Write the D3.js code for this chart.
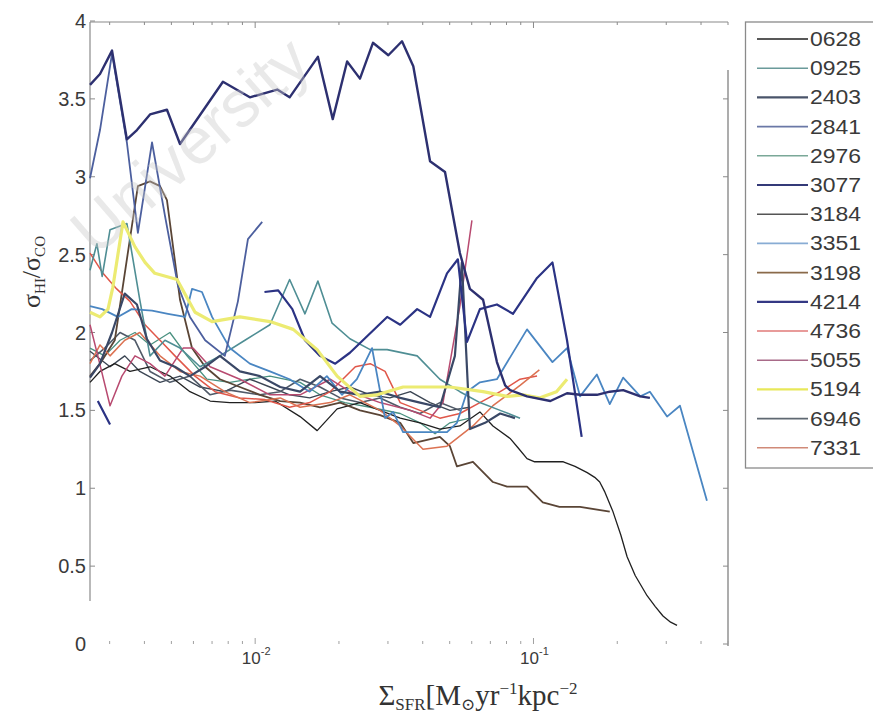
<!DOCTYPE html>
<html><head><meta charset="utf-8">
<script src="https://cdn.jsdelivr.net/npm/d3@7"></script>
<style>body{margin:0;background:#fff}svg{display:block}</style>
</head><body>
<svg id="c" width="873" height="718"></svg>
<script>
// ---------- data ----------
const galaxies = ["0628","0925","2403","2841","2976","3077","3184","3351","3198","4214","4736","5055","5194","6946","7331"];
const yTicks = [0,0.5,1,1.5,2,2.5,3,3.5,4];
const yTickLabels = ["0","0.5","1","1.5","2","2.5","3","3.5","4"];
const xMajorTicks = [0.01, 0.1];
const xMajorExp = ["-2","-1"];

const s0628 = [[0.00255,1.68],[0.00277,1.75],[0.00313,1.80],[0.00355,1.75],[0.00419,1.78],[0.00494,1.72],[0.00583,1.62],[0.00689,1.56],[0.00811,1.55],[0.00998,1.55],[0.0118,1.56],[0.0145,1.46],[0.0167,1.37],[0.0197,1.51],[0.0238,1.55],[0.0281,1.50],[0.0332,1.45],[0.0391,1.42],[0.0461,1.38],[0.0544,1.40],[0.0642,1.49],[0.0715,1.40],[0.0824,1.32],[0.088,1.26],[0.0948,1.19],[0.101,1.17],[0.110,1.17],[0.128,1.17],[0.141,1.14],[0.156,1.10],[0.166,1.07],[0.173,1.04],[0.180,0.98],[0.193,0.85],[0.206,0.70],[0.217,0.56],[0.232,0.44],[0.256,0.31],[0.274,0.24],[0.292,0.18],[0.311,0.14],[0.328,0.12]];
const s0925 = [[0.00255,2.40],[0.00270,2.57],[0.00282,2.36],[0.00301,2.66],[0.00346,2.70],[0.00385,2.21],[0.00419,1.85],[0.00474,1.95],[0.00537,1.90],[0.00634,1.78],[0.00747,1.85],[0.00919,1.95],[0.0113,2.05],[0.0133,2.34],[0.0151,2.12],[0.0168,2.33],[0.0189,2.06],[0.0219,1.96],[0.0259,1.89],[0.0298,1.89],[0.0382,1.85],[0.0461,1.70],[0.0544,1.62],[0.0642,1.55],[0.0759,1.50],[0.0895,1.45]];
const s2403 = [[0.00255,1.71],[0.00277,1.80],[0.00306,2.00],[0.00340,2.25],[0.00376,2.18],[0.00408,1.96],[0.00455,1.82],[0.00515,1.78],[0.00583,1.72],[0.00661,1.78],[0.00747,1.85],[0.00881,1.75],[0.0104,1.72],[0.0123,1.65],[0.0145,1.62],[0.0171,1.72],[0.0202,1.62],[0.0238,1.60],[0.0281,1.62],[0.0332,1.58],[0.0391,1.55],[0.0461,1.52],[0.0522,1.85],[0.0553,2.45],[0.0591,1.38],[0.0670,1.42],[0.0759,1.48],[0.0858,1.45]];
const s2841 = [[0.00255,2.99],[0.00277,3.30],[0.00306,3.79],[0.00346,3.22],[0.00379,2.64],[0.00426,3.22],[0.00474,2.75],[0.00528,2.30],[0.00583,2.10],[0.00661,1.95],[0.00778,1.85],[0.00867,2.20],[0.00942,2.60],[0.0106,2.71]];
const s2976 = [[0.00255,1.90],[0.00288,1.85],[0.00327,1.95],[0.00370,2.00],[0.00419,1.92],[0.00494,2.00],[0.00569,1.85],[0.00671,1.70],[0.00811,1.68],[0.00957,1.70],[0.0113,1.72],[0.0145,1.68],[0.0171,1.60],[0.0210,1.55],[0.0259,1.52],[0.0332,1.48],[0.0391,1.42],[0.0443,1.35],[0.0501,1.42],[0.0591,1.45]];
const s3077 = [[0.00255,3.59],[0.00277,3.66],[0.00306,3.81],[0.00346,3.24],[0.00376,3.30],[0.00419,3.40],[0.00482,3.43],[0.00537,3.21],[0.00766,3.61],[0.00957,3.51],[0.0120,3.56],[0.0133,3.51],[0.0168,3.77],[0.0190,3.37],[0.0214,3.74],[0.0238,3.63],[0.0265,3.86],[0.0301,3.78],[0.0337,3.87],[0.0370,3.71],[0.0425,3.10],[0.0481,3.03],[0.0544,2.51],[0.0591,2.28],[0.0659,2.21],[0.0739,1.81],[0.0791,1.66],[0.0824,1.63],[0.0948,1.59],[0.115,1.56],[0.132,1.61],[0.147,1.60],[0.169,1.60],[0.188,1.62],[0.210,1.63],[0.242,1.59],[0.262,1.58]];
const s3184 = [[0.00255,1.88],[0.00301,1.78],[0.00340,1.85],[0.00385,1.75],[0.00455,1.68],[0.00537,1.72],[0.00634,1.65],[0.00778,1.62],[0.00957,1.70],[0.0113,1.65],[0.0133,1.60],[0.0157,1.58],[0.0186,1.62],[0.0219,1.65],[0.0259,1.60],[0.0305,1.58],[0.0361,1.62],[0.0425,1.55],[0.0501,1.50],[0.0591,1.52]];
const s3351 = [[0.00255,2.17],[0.00282,2.15],[0.00321,2.10],[0.00360,2.15],[0.00426,2.14],[0.00486,2.12],[0.00560,2.10],[0.00593,2.28],[0.00644,2.26],[0.00700,2.10],[0.00811,1.90],[0.00957,1.80],[0.0113,1.75],[0.0133,1.70],[0.0157,1.62],[0.0181,1.72],[0.0205,1.60],[0.0232,1.70],[0.0263,1.90],[0.0293,1.45],[0.0313,1.49],[0.0340,1.36],[0.0489,1.36],[0.0531,1.42],[0.0577,1.62],[0.0642,1.68],[0.0739,1.70],[0.0948,2.02],[0.117,1.81],[0.132,1.90],[0.147,1.59],[0.169,1.73],[0.188,1.54],[0.210,1.71],[0.242,1.59],[0.262,1.62],[0.302,1.46],[0.336,1.53],[0.420,0.92]];
const s3198 = [[0.00255,1.72],[0.00277,1.80],[0.00313,1.95],[0.00348,2.50],[0.00379,2.94],[0.00419,2.97],[0.00455,2.94],[0.00482,2.85],[0.00537,2.21],[0.00593,1.90],[0.00661,1.78],[0.00747,1.70],[0.00881,1.65],[0.0104,1.60],[0.0123,1.56],[0.0145,1.55],[0.0171,1.52],[0.0202,1.55],[0.0238,1.50],[0.0281,1.47],[0.0332,1.42],[0.0370,1.29],[0.0461,1.33],[0.0501,1.27],[0.0531,1.14],[0.0606,1.17],[0.0715,1.04],[0.0804,1.01],[0.0948,1.01],[0.108,0.91],[0.124,0.88],[0.147,0.88],[0.188,0.85]];
const s4214 = [[0.00272,1.56],[0.00301,1.41],[0.0050,null],[0.0108,2.26],[0.0121,2.27],[0.0136,2.15],[0.0151,1.95],[0.0171,1.85],[0.0194,1.80],[0.0219,1.87],[0.0298,2.10],[0.0332,2.05],[0.0382,2.15],[0.0425,2.10],[0.0489,2.38],[0.0535,2.47],[0.0577,1.94],[0.0642,2.15],[0.0739,2.18],[0.0844,2.12],[0.103,2.35],[0.117,2.45],[0.132,1.95],[0.149,1.33]];
const s4736 = [[0.00255,2.51],[0.00284,2.38],[0.00318,2.28],[0.00355,2.20],[0.00402,2.05],[0.00455,1.95],[0.00515,1.85],[0.00608,1.72],[0.00718,1.62],[0.00881,1.58],[0.0108,1.57],[0.0133,1.52],[0.0157,1.55],[0.0186,1.62],[0.0229,1.78],[0.0259,1.80],[0.0293,1.75],[0.0332,1.55],[0.0391,1.50],[0.0461,1.45],[0.0544,1.48],[0.0642,1.55],[0.0759,1.62],[0.0895,1.70],[0.103,1.72]];
const s5055 = [[0.00255,2.05],[0.00272,1.85],[0.00301,1.53],[0.00332,1.72],[0.00370,1.85],[0.00419,1.80],[0.00474,1.72],[0.00551,1.90],[0.00598,1.90],[0.00689,1.78],[0.00881,1.70],[0.0113,1.60],[0.0145,1.60],[0.0186,1.70],[0.0219,1.62],[0.0281,1.55],[0.0361,1.50],[0.0425,1.45],[0.0473,1.55],[0.0544,2.17],[0.0601,2.72]];
const s5194 = [[0.00255,2.13],[0.00277,2.10],[0.00296,2.15],[0.00308,2.29],[0.00335,2.71],[0.00370,2.55],[0.00402,2.45],[0.00436,2.38],[0.00524,2.34],[0.00608,2.13],[0.00700,2.07],[0.00881,2.10],[0.0113,2.07],[0.0137,2.02],[0.0167,1.89],[0.0197,1.72],[0.0238,1.59],[0.0274,1.60],[0.0340,1.65],[0.0501,1.65],[0.0659,1.62],[0.0804,1.59],[0.0917,1.60],[0.105,1.58],[0.121,1.62],[0.132,1.70]];
const s6946 = [[0.00255,1.82],[0.00288,1.90],[0.00327,2.00],[0.00370,1.95],[0.00419,1.75],[0.00494,1.68],[0.00583,1.72],[0.00689,1.60],[0.00811,1.63],[0.0104,1.60],[0.0123,1.62],[0.0145,1.70],[0.0171,1.65],[0.0202,1.58],[0.0238,1.55],[0.0281,1.58],[0.0332,1.52],[0.0391,1.48],[0.0461,1.55],[0.0544,1.50]];
const s7331 = [[0.00255,1.80],[0.00277,1.92],[0.00301,1.85],[0.00340,1.95],[0.00385,2.00],[0.00455,1.85],[0.00537,1.75],[0.00634,1.72],[0.00778,1.62],[0.00957,1.55],[0.0123,1.58],[0.0145,1.52],[0.0186,1.55],[0.0219,1.60],[0.0281,1.50],[0.0332,1.40],[0.0401,1.25],[0.0489,1.27],[0.0606,1.40],[0.0715,1.53],[0.0895,1.66],[0.105,1.76]];

const seriesData = [s0628,s0925,s2403,s2841,s2976,s3077,s3184,s3351,s3198,s4214,s4736,s5055,s5194,s6946,s7331];

// ---------- styles ----------
const lineColors = ["#202020","#4f8e94","#3a4866","#4c5f9e","#4a9180","#2d3070","#3c4654","#4a86c2","#5a4536","#2b3384","#e0574a","#b84a70","#eceb72","#505a68","#dc7252"];
const lineWidths = [1.3,1.6,2.2,1.8,1.3,2.4,1.4,1.8,1.8,2.2,1.5,1.5,3.2,1.6,1.5];
const legendColors = ["#202020","#6a9a9a","#4a546a","#6a78a6","#7aa898","#343a78","#555555","#88acd4","#8a6a4a","#343884","#e07a78","#a86a88","#e8e85a","#5f6872","#d08a78"];
const drawOrder = [4,6,13,0,8,10,14,11,1,7,2,9,3,12,5];

// ---------- chart ----------
const svg = d3.select("#c");
const x = d3.scaleLog().domain([0.00255, 0.5]).range([90, 728]);
const y = d3.scaleLinear().domain([0, 4]).range([644, 21]);
const axisCol = "#8a8a8a";
const txtCol = "#3a3a3a";

// frame lines
svg.append("line").attr("x1",90).attr("x2",728).attr("y1",y(4)+1).attr("y2",y(4)+1).attr("stroke",axisCol).attr("stroke-width",1.2);
svg.append("line").attr("x1",90).attr("x2",90).attr("y1",y(4)+1).attr("y2",601).attr("stroke",axisCol).attr("stroke-width",1.2);
svg.append("line").attr("x1",728).attr("x2",728).attr("y1",70).attr("y2",y(0)+2).attr("stroke",axisCol).attr("stroke-width",1.4);

// y ticks + labels
yTicks.forEach((t,i)=>{
  if (y(t) <= 601) svg.append("line").attr("x1",90).attr("x2",95).attr("y1",y(t)).attr("y2",y(t)).attr("stroke",axisCol);
  if (y(t) >= 70) svg.append("line").attr("x1",723).attr("x2",728).attr("y1",y(t)).attr("y2",y(t)).attr("stroke",axisCol);
  svg.append("text").attr("x",86).attr("y",y(t)).attr("text-anchor","end").attr("dominant-baseline","central")
    .attr("font-family","Liberation Sans, Arial, sans-serif").attr("font-size",20).attr("fill",txtCol).text(yTickLabels[i]);
});

// x ticks (minor + major), top and bottom
const xt = x.ticks();
xt.forEach(t=>{
  const major = xMajorTicks.some(m=>Math.abs(m-t)/m<1e-6);
  const len = major ? 6 : 3;
  svg.append("line").attr("x1",x(t)).attr("x2",x(t)).attr("y1",y(0)).attr("y2",y(0)-len).attr("stroke","#a0a0a0").attr("stroke-width",1);
  svg.append("line").attr("x1",x(t)).attr("x2",x(t)).attr("y1",y(4)+1).attr("y2",y(4)+1+len).attr("stroke",axisCol).attr("stroke-width",1);
});
xMajorTicks.forEach((t,i)=>{
  const g = svg.append("text").attr("x",x(t)+1).attr("y",664).attr("text-anchor","middle")
    .attr("font-family","Liberation Sans, Arial, sans-serif").attr("font-size",17).attr("fill",txtCol);
  g.append("tspan").text("10");
  g.append("tspan").attr("font-size",11).attr("dy",-9).text(xMajorExp[i]);
});

// axis titles
const xl = svg.append("text").attr("x",478).attr("y",705).attr("text-anchor","middle")
  .attr("font-family","Liberation Serif, DejaVu Serif, serif").attr("font-size",29).attr("fill","#333");
xl.append("tspan").text("Σ");
xl.append("tspan").attr("font-size",17).attr("dy",5).text("SFR");
xl.append("tspan").attr("dy",-5).text("[M");
xl.append("tspan").attr("font-size",17).attr("dy",5).text("⊙");
xl.append("tspan").attr("dy",-5).text("yr");
xl.append("tspan").attr("font-size",17).attr("dy",-11).text("−1");
xl.append("tspan").attr("dy",11).text("kpc");
xl.append("tspan").attr("font-size",17).attr("dy",-11).text("−2");

const yl = svg.append("text").attr("transform","translate(40,272) rotate(-90)").attr("text-anchor","middle")
  .attr("font-family","Liberation Serif, DejaVu Serif, serif").attr("font-size",26).attr("fill","#333");
yl.append("tspan").text("σ");
yl.append("tspan").attr("font-size",15).attr("dy",5).text("HI");
yl.append("tspan").attr("dy",-5).text("/σ");
yl.append("tspan").attr("font-size",15).attr("dy",5).text("CO");

// lines
const line = d3.line().defined(d=>d[1]!=null).x(d=>x(d[0])).y(d=>y(d[1]));
const gl = svg.append("g");
drawOrder.forEach(i=>{
  gl.append("path").attr("d",line(seriesData[i])).attr("fill","none")
    .attr("stroke",lineColors[i]).attr("stroke-width",lineWidths[i]).attr("stroke-linejoin","round");
});

// legend
const lg = svg.append("g");
lg.append("rect").attr("x",745.5).attr("y",y(4)+1).attr("width",140).attr("height",446).attr("fill","#fff").attr("stroke","#8a8a8a").attr("stroke-width",1.3);
galaxies.forEach((g,i)=>{
  const yy = 39 + i*29.2;
  lg.append("line").attr("x1",757).attr("x2",808).attr("y1",yy).attr("y2",yy)
    .attr("stroke",legendColors[i]).attr("stroke-width",i===12?2.4:(lineWidths[i]>2?2.2:1.6));
  lg.append("text").attr("x",810).attr("y",yy).attr("dominant-baseline","central")
    .attr("font-family","Liberation Sans, Arial, sans-serif").attr("font-size",20)
    .attr("textLength",51).attr("lengthAdjust","spacingAndGlyphs").attr("fill",txtCol).text(g);
});

// watermark
svg.append("text").attr("transform","translate(190,145) rotate(-41)").attr("text-anchor","middle").attr("dominant-baseline","central")
  .attr("font-family","Liberation Sans, Arial, sans-serif").attr("font-size",66)
  .attr("fill","#c8c8c8").attr("fill-opacity",0.4).text("University");
</script>
</body></html>
